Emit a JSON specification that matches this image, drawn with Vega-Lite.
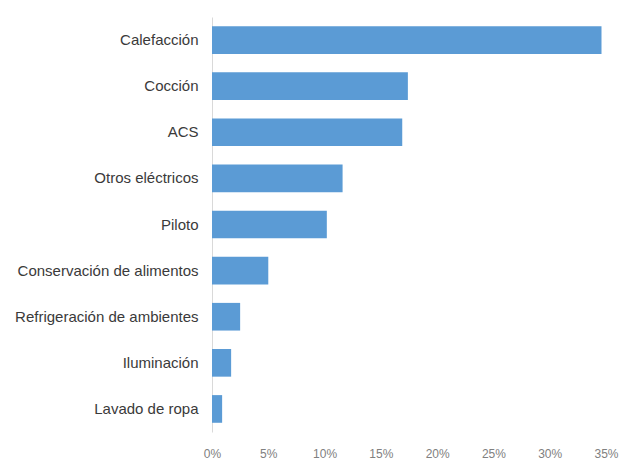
{
  "$schema": "https://vega.github.io/schema/vega-lite/v6.json",
  "autosize": {"type": "none"},
  "padding": {"left": 212, "top": 17, "right": 16, "bottom": 29},
  "width": 394,
  "height": 415,
  "background": "white",
  "data": {
    "values": [
      {"uso": "Calefacción", "valor": 34.6},
      {"uso": "Cocción", "valor": 17.4},
      {"uso": "ACS", "valor": 16.9},
      {"uso": "Otros eléctricos", "valor": 11.6},
      {"uso": "Piloto", "valor": 10.2},
      {"uso": "Conservación de alimentos", "valor": 5.0},
      {"uso": "Refrigeración de ambientes", "valor": 2.5},
      {"uso": "Iluminación", "valor": 1.7},
      {"uso": "Lavado de ropa", "valor": 0.9}
    ]
  },
  "mark": {"type": "bar", "color": "#5b9bd5"},
  "encoding": {
    "y": {
      "field": "uso",
      "type": "nominal",
      "sort": null,
      "scale": {"paddingInner": 0.4, "paddingOuter": 0.2},
      "axis": {
        "title": null,
        "ticks": false,
        "domainColor": "#d9d9d9",
        "labelPadding": 14,
        "labelFont": "Liberation Sans",
        "labelFontSize": 15,
        "labelColor": "#3a3a3a",
        "labelLimit": 300
      }
    },
    "x": {
      "field": "valor",
      "type": "quantitative",
      "scale": {"domain": [0, 35], "nice": false},
      "axis": {
        "title": null,
        "values": [0, 5, 10, 15, 20, 25, 30, 35],
        "labelExpr": "datum.value + '%'",
        "grid": false,
        "domain": false,
        "ticks": false,
        "labelPadding": 16,
        "labelFont": "Liberation Sans",
        "labelFontSize": 12,
        "labelColor": "#808080",
        "labelFlush": false
      }
    }
  },
  "config": {"view": {"stroke": null}}
}
